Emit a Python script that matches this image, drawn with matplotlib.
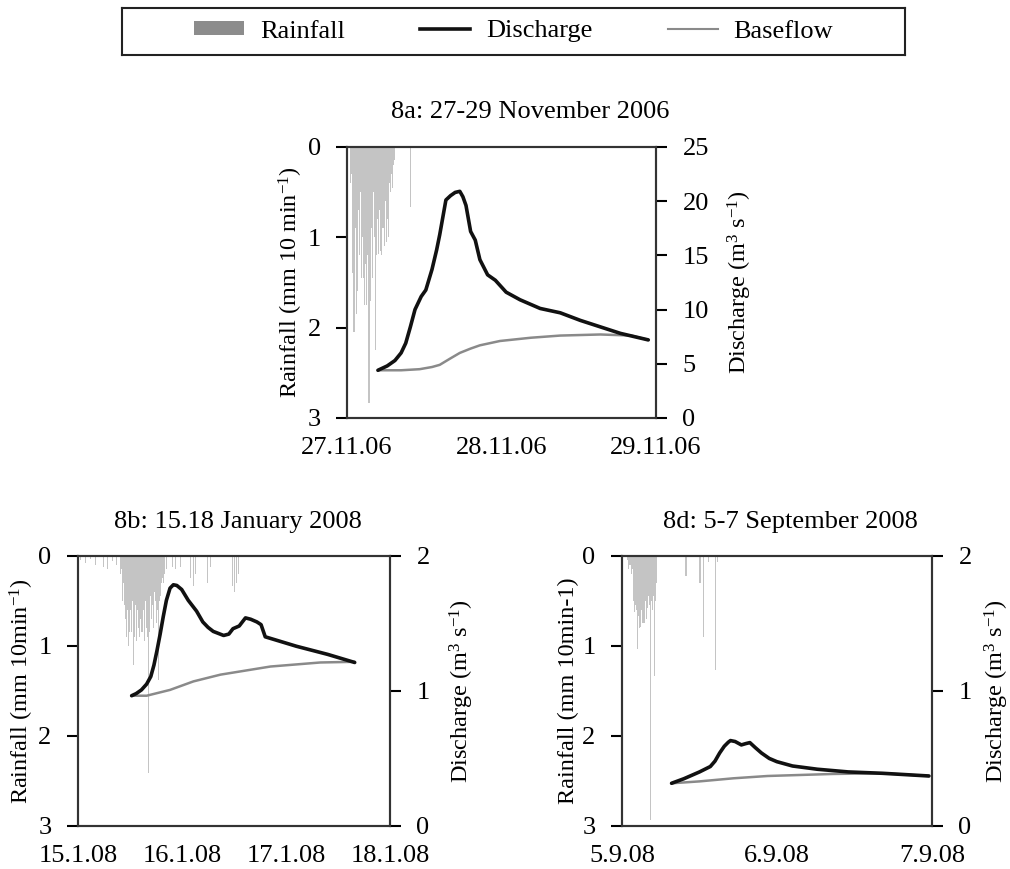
import matplotlib.pyplot as plt
from matplotlib.patches import Patch
from matplotlib.lines import Line2D

plt.rcParams['font.family'] = ['Liberation Serif', 'DejaVu Serif']
plt.rcParams['font.size'] = 19
plt.rcParams['mathtext.fontset'] = 'custom'
plt.rcParams['mathtext.rm'] = 'Liberation Serif'
plt.rcParams['mathtext.it'] = 'Liberation Serif:italic'
plt.rcParams['mathtext.default'] = 'regular'

# ---- 8a: 27-29 November 2006 (time in days from 27.11.06 00:00) ----
rain_a_idx = [3, 4, 5, 6, 7, 8, 9, 10, 11, 12, 13, 14, 15, 16, 17, 18, 19, 20, 21, 22,
              23, 24, 25, 26, 27, 28, 29, 30, 31, 32, 33, 34, 35, 36, 37, 38, 39, 40,
              41, 42, 43, 44, 59]
rain_a_mm = [0.4, 0.3, 1.4, 2.05, 0.9, 1.85, 1.6, 0.7, 1.2, 0.5, 1.45, 1.0, 1.45, 1.75,
             1.3, 1.75, 1.2, 2.83, 1.7, 0.9, 1.45, 0.5, 1.0, 2.25, 1.2, 0.8, 1.18, 0.7,
             1.15, 1.2, 0.9, 1.1, 0.6, 1.05, 0.8, 1.0, 0.4, 0.5, 0.3, 0.45, 0.2, 0.15,
             0.66]
q_a_t = [0.20, 0.26, 0.31, 0.35, 0.38, 0.41, 0.44, 0.48, 0.51, 0.55, 0.58, 0.60, 0.64,
         0.67, 0.70, 0.73, 0.75, 0.77, 0.80, 0.83, 0.86, 0.91, 0.96, 1.03, 1.12, 1.25,
         1.38, 1.51, 1.64, 1.77, 1.95]
q_a = [4.4, 4.8, 5.3, 6.0, 6.9, 8.4, 10.0, 11.2, 11.8, 13.7, 15.5, 16.9, 20.1, 20.5,
       20.8, 20.9, 20.4, 19.6, 17.2, 16.4, 14.6, 13.2, 12.7, 11.6, 10.9, 10.1, 9.7,
       9.0, 8.4, 7.8, 7.2]
b_a_t = [0.20, 0.35, 0.47, 0.55, 0.60, 0.67, 0.73, 0.80, 0.86, 0.99, 1.19, 1.38, 1.64,
         1.84, 1.95]
b_a = [4.4, 4.4, 4.5, 4.7, 4.9, 5.5, 6.0, 6.4, 6.7, 7.1, 7.4, 7.6, 7.7, 7.6, 7.2]

# ---- 8b: 15-18 January 2008 ----
rain_b_idx = [3, 10, 17, 24, 30, 35, 40, 47, 53, 58, 59, 60, 61, 62, 63, 64, 65, 66, 67,
              68, 69, 70, 71, 72, 73, 74, 75, 76, 77, 78, 79, 80, 81, 82, 83, 84, 85, 86,
              87, 88, 89, 90, 91, 92, 93, 94, 95, 96, 97, 98, 99, 100, 101, 102, 103,
              104, 105, 106, 107, 108, 109, 110, 111, 112, 113, 114, 115, 116, 117, 118,
              119, 120, 122, 124, 127, 130, 134, 141, 155, 159, 162, 179, 183, 213, 216,
              217, 219, 222]
rain_b_mm = [0.05, 0.08, 0.04, 0.1, 0.15, 0.12, 0.15, 0.06, 0.1, 0.2, 0.35, 0.15, 0.5,
             0.63, 0.3, 0.55, 0.7, 0.5, 0.9, 0.6, 1.0, 0.75, 0.85, 0.6, 1.0, 0.85, 0.5,
             1.21, 0.7, 0.9, 0.55, 0.85, 0.95, 0.6, 0.8, 0.5, 0.9, 0.7, 0.85, 0.4, 0.85,
             0.6, 0.75, 0.95, 0.5, 0.8, 0.65, 0.9, 2.41, 0.6, 0.85, 0.45, 0.7, 0.9, 0.55,
             0.8, 0.4, 0.65, 0.5, 0.75, 0.45, 0.6, 1.38, 0.5, 0.35, 0.45, 0.3, 0.4, 0.25,
             0.3, 0.2, 0.25, 0.15, 0.2, 0.1, 0.12, 0.15, 0.12, 0.25, 0.34, 0.2, 0.3,
             0.12, 0.34, 0.4, 2.23, 0.3, 0.2]
q_b_t = [0.516, 0.56, 0.61, 0.66, 0.70, 0.73, 0.76, 0.79, 0.82, 0.85, 0.885, 0.917,
         0.95, 0.997, 1.06, 1.14, 1.20, 1.25, 1.30, 1.40, 1.45, 1.49, 1.55, 1.61, 1.66,
         1.72, 1.76, 1.80, 2.10, 2.40, 2.66]
q_b = [0.964, 0.98, 1.007, 1.05, 1.106, 1.19, 1.30, 1.42, 1.55, 1.67, 1.76, 1.785,
       1.78, 1.75, 1.67, 1.59, 1.51, 1.47, 1.44, 1.41, 1.42, 1.46, 1.48, 1.54, 1.53,
       1.51, 1.49, 1.40, 1.33, 1.27, 1.21]
b_b_t = [0.516, 0.66, 0.885, 1.11, 1.37, 1.85, 2.33, 2.66]
b_b = [0.964, 0.964, 1.007, 1.07, 1.12, 1.18, 1.21, 1.215]

# ---- 8d: 5-7 September 2008 ----
rain_d_idx = [5, 6, 7, 8, 9, 10, 11, 12, 13, 14, 15, 16, 17, 18, 19, 20, 21, 22, 23,
              24, 25, 26, 27, 28, 29, 30, 31, 32, 59, 72, 75, 80, 86, 88]
rain_d_mm = [0.05, 0.15, 0.1, 0.2, 0.15, 0.5, 0.63, 0.55, 0.6, 1.03, 0.67, 0.8, 0.79,
             0.6, 0.75, 0.75, 0.5, 0.7, 0.58, 0.45, 0.55, 2.93, 0.5, 0.6, 0.45, 1.34,
             0.5, 0.3, 0.22, 0.3, 0.9, 0.07, 1.27, 0.07]
q_d_t = [0.32, 0.40, 0.50, 0.57, 0.60, 0.63, 0.66, 0.686, 0.70, 0.73, 0.77, 0.80,
         0.825, 0.86, 0.90, 0.95, 0.999, 1.10, 1.26, 1.46, 1.68, 1.98]
q_d = [0.316, 0.35, 0.40, 0.44, 0.48, 0.54, 0.59, 0.62, 0.632, 0.625, 0.60, 0.61,
       0.617, 0.58, 0.54, 0.50, 0.476, 0.444, 0.42, 0.40, 0.39, 0.37]
b_d_t = [0.32, 0.50, 0.72, 0.94, 1.36, 1.68, 1.98]
b_d = [0.316, 0.33, 0.353, 0.37, 0.385, 0.39, 0.37]

rain_col = '#c4c4c4'
q_col = '#111111'
b_col = '#8a8a8a'


def panel(rect, ndays, xlabels, rain_idx, rain_mm, qt, q, bt, b, qmax, qticks,
          rlabel, title, title_x, title_y, lab_l, lab_r):
    ax = fig.add_axes(rect)
    t = [i / 144 for i in rain_idx]
    ax.bar(t, rain_mm, width=1 / 144, color=rain_col, linewidth=0, align='edge')
    ax.set_ylim(3, 0)
    ax.set_xlim(0, ndays)
    ax.set_yticks([0, 1, 2, 3])
    ax.set_xticks(range(ndays + 1))
    ax.set_xticklabels(xlabels)
    ax.tick_params(axis='x', length=0, pad=14)
    ax.tick_params(axis='y', length=8, width=1.5, pad=11, direction='out')
    ax.set_ylabel(rlabel, fontsize=17.5)
    ax.yaxis.set_label_coords(lab_l, 0.5)
    ax2 = ax.twinx()
    ax2.plot(bt, b, color=b_col, lw=1.8, solid_capstyle='round')
    ax2.plot(qt, q, color=q_col, lw=2.6, solid_capstyle='round',
             solid_joinstyle='round')
    ax2.set_ylim(0, qmax)
    ax2.set_yticks(qticks)
    ax2.tick_params(axis='y', length=8, width=1.5, pad=11, direction='out')
    ax2.set_ylabel('Discharge (m$^3$ s$^{-1}$)', fontsize=17.5)
    ax2.yaxis.set_label_coords(lab_r, 0.5)
    for a in (ax, ax2):
        for s in a.spines.values():
            s.set_linewidth(1.5)
            s.set_color('#333333')
    fig.text(title_x, title_y, title, ha='center', va='center')
    return ax


fig = plt.figure(figsize=(10.1, 8.69), dpi=100)

panel([0.3436, 0.519, 0.3059, 0.312], 2, ['27.11.06', '28.11.06', '29.11.06'],
      rain_a_idx, rain_a_mm, q_a_t, q_a, b_a_t, b_a, 25, [0, 5, 10, 15, 20, 25],
      'Rainfall (mm 10 min$^{-1}$)', '8a: 27-29 November 2006', 0.525, 0.871,
      -0.135, 1.225)
panel([0.0772, 0.0495, 0.309, 0.311], 3, ['15.1.08', '16.1.08', '17.1.08', '18.1.08'],
      rain_b_idx, rain_b_mm, q_b_t, q_b, b_b_t, b_b, 2, [0, 1, 2],
      'Rainfall (mm 10min$^{-1}$)', '8b: 15.18 January 2008', 0.236, 0.399,
      -0.135, 1.186)
panel([0.6158, 0.0495, 0.307, 0.311], 2, ['5.9.08', '6.9.08', '7.9.08'],
      rain_d_idx, rain_d_mm, q_d_t, q_d, b_d_t, b_d, 2, [0, 1, 2],
      'Rainfall (mm 10min-1)', '8d: 5-7 September 2008', 0.783, 0.399,
      -0.14, 1.165)

# legend box
lax = fig.add_axes([122 / 1010, (869 - 55) / 869, 783 / 1010, 47 / 869])
lax.set_xticks([])
lax.set_yticks([])
for s in lax.spines.values():
    s.set_linewidth(1.5)
    s.set_color('#222222')
handles = [Patch(facecolor='#8c8c8c', edgecolor='none'),
           Line2D([], [], color=q_col, lw=2.6),
           Line2D([], [], color=b_col, lw=1.5)]
lax.legend(handles, ['Rainfall', 'Discharge', 'Baseflow'], loc='center', ncol=3,
           frameon=False, handlelength=1.9, handleheight=0.4, columnspacing=2.85,
           handletextpad=0.6, fontsize=19)

fig.savefig('out.png', dpi=100)
